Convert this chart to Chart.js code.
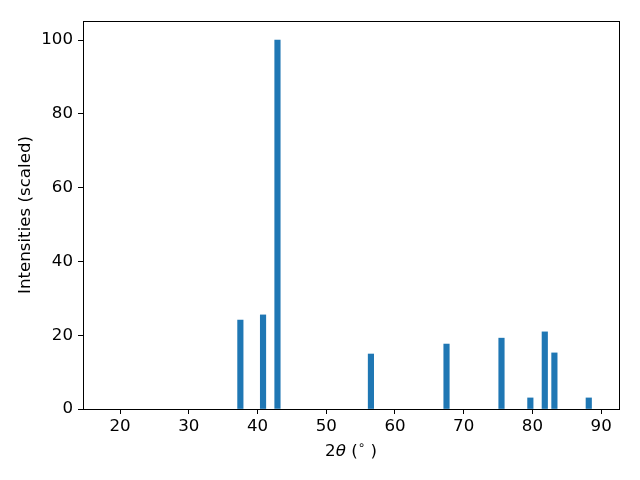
<!DOCTYPE html>
<html>
<head>
<meta charset="utf-8">
<script src="https://cdn.jsdelivr.net/npm/chart.js@4"></script>
<style>
  body { margin: 0; background: #fff; }
  canvas { display: block; }
</style>
</head>
<body>
<canvas id="xrd" width="640" height="480"></canvas>
<script>
// peak positions (2theta, degrees) and scaled intensities
const peakPositions = [37.5, 40.8, 42.9, 56.5, 67.5, 75.5, 79.7, 81.8, 83.2, 88.2];
const peakIntensities = [24.1, 25.5, 100, 14.9, 17.6, 19.2, 3.0, 20.9, 15.2, 3.0];
const xTicks = [20, 30, 40, 50, 60, 70, 80, 90];
const yTicks = [0, 20, 40, 60, 80, 100];

const font = { family: 'DejaVu Sans', size: 16.67 };

// frame on all four sides + x label with italic theta
const framePlugin = {
    id: 'frame',
    afterDraw(chart) {
        const { ctx, chartArea: a } = chart;
        ctx.save();
        ctx.strokeStyle = '#000';
        ctx.lineWidth = 1;
        ctx.strokeRect(Math.round(a.left) + 0.5, Math.round(a.top) + 0.5,
            Math.round(a.right - a.left), Math.round(a.bottom - a.top));

        const parts = [
            { t: '2', f: '16.67px "DejaVu Sans"', dy: 0 },
            { t: 'θ', f: 'italic 16.67px "DejaVu Sans"', dy: 0 },
            { t: ' (', f: '16.67px "DejaVu Sans"', dy: 0 },
            { t: '∘', f: '12px "DejaVu Sans"', dy: -6 },
            { t: ' )', f: '16.67px "DejaVu Sans"', dy: 0 }
        ];
        let total = 0;
        parts.forEach(p => { ctx.font = p.f; p.w = ctx.measureText(p.t).width; total += p.w; });
        let x = (a.left + a.right) / 2 - total / 2;
        const y = 452;
        ctx.fillStyle = '#000';
        ctx.textBaseline = 'middle';
        ctx.textAlign = 'left';
        parts.forEach(p => { ctx.font = p.f; ctx.fillText(p.t, x, y + p.dy); x += p.w; });
        ctx.restore();
    }
};

new Chart(document.getElementById('xrd').getContext('2d'), {
    type: 'bar',
    data: {
        datasets: [{
            data: peakPositions.map((p, i) => ({ x: p, y: peakIntensities[i] })),
            backgroundColor: '#1f77b4',
            borderWidth: 0,
            barThickness: 5.5
        }]
    },
    options: {
        responsive: false,
        animation: false,
        layout: { padding: { left: 0, right: 21, top: 21, bottom: 0 } },
        plugins: { legend: { display: false }, tooltip: { enabled: false } },
        scales: {
            x: {
                type: 'linear',
                min: 14.6,
                max: 92.6,
                offset: false,
                afterBuildTicks: s => { s.ticks = xTicks.map(v => ({ value: v })); },
                afterFit: s => { s.height = 71; },
                grid: { display: true, drawOnChartArea: false, drawTicks: true, tickLength: 5, color: '#000', offset: false },
                border: { display: true, color: '#000', width: 1 },
                ticks: { color: '#000', font, padding: 3, maxRotation: 0 }
            },
            y: {
                min: 0,
                max: 105.15,
                afterBuildTicks: s => { s.ticks = yTicks.map(v => ({ value: v })); },
                afterFit: s => { s.width = 83; },
                grid: { display: true, drawOnChartArea: false, drawTicks: true, tickLength: 5, color: '#000' },
                border: { display: true, color: '#000', width: 1 },
                ticks: { color: '#000', font, padding: 5 },
                title: {
                    display: true,
                    text: 'Intensities (scaled)',
                    color: '#000',
                    font,
                    padding: { top: 16, bottom: 0 }
                }
            }
        }
    },
    plugins: [framePlugin]
});
</script>
</body>
</html>
